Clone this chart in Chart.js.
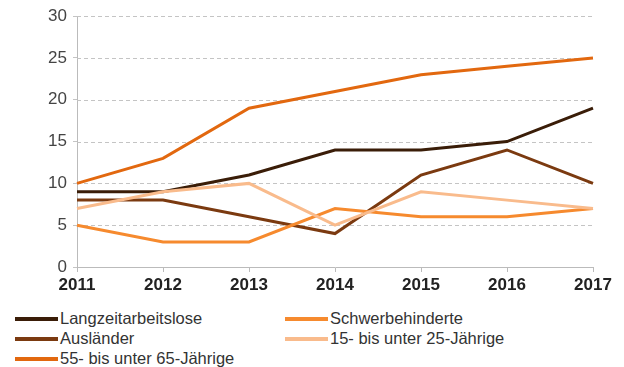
<!DOCTYPE html>
<html>
<head>
<meta charset="utf-8">
<script src="https://cdn.jsdelivr.net/npm/chart.js@4"></script>
<style>
  body { margin: 0; background: #fff; font-family: "Liberation Sans", Arial, sans-serif; }
  #wrap { position: relative; width: 624px; height: 367px; }
  #legend { position: absolute; left: 15px; top: 309px; width: 600px; font-size: 16.5px; color: #333; }
  .item { position: absolute; display: flex; align-items: center; white-space: nowrap; }
  .item span.sw { display: inline-block; width: 43px; height: 4px; margin-right: 2px; }
</style>
</head>
<body>
<div id="wrap">
  <canvas id="myChart" width="624" height="300"></canvas>
  <div id="legend"></div>
</div>
<script>
let years = ["2011", "2012", "2013", "2014", "2015", "2016", "2017"];
let langzeit = [9, 9, 11, 14, 14, 15, 19];
let schwer = [5, 3, 3, 7, 6, 6, 7];
let auslaender = [8, 8, 6, 4, 11, 14, 10];
let jung = [7, 9, 10, 5, 9, 8, 7];
let aelter = [10, 13, 19, 21, 23, 24, 25];
let yTicks = [0, 5, 10, 15, 20, 25, 30];

let series = [
  { label: "Langzeitarbeitslose", data: langzeit, color: "#3a1d08" },
  { label: "Schwerbehinderte", data: schwer, color: "#f68a2e" },
  { label: "Ausländer", data: auslaender, color: "#7b3a10" },
  { label: "15- bis unter 25-Jährige", data: jung, color: "#f9bb8c" },
  { label: "55- bis unter 65-Jährige", data: aelter, color: "#e2680f" }
];

// draw order: lighter lines under darker ones
let order = [3, 1, 2, 4, 0];

// dashed horizontal gridlines, placed with the y scale
let dashGrid = {
  id: "dashGrid",
  beforeDatasetsDraw: c => {
    let y = c.scales.y, a = c.chartArea, g = c.ctx;
    g.save();
    g.strokeStyle = "#c4c4c4";
    g.lineWidth = 1;
    g.setLineDash([4, 3]);
    yTicks.forEach(v => {
      if (v === 0) return;
      let py = Math.round(y.getPixelForValue(v)) + 0.5;
      g.beginPath();
      g.moveTo(a.left, py);
      g.lineTo(a.right, py);
      g.stroke();
    });
    g.restore();
  }
};

let ctx = document.getElementById("myChart").getContext("2d");
var ch = new Chart(ctx, {
  type: "line",
  data: {
    labels: years,
    datasets: order.map(i => ({
      label: series[i].label,
      data: series[i].data,
      borderColor: series[i].color,
      borderWidth: 3,
      pointRadius: 0,
      tension: 0,
      fill: false
    }))
  },
  options: {
    responsive: false,
    animation: false,
    layout: { padding: { left: 0, right: 31, top: 16, bottom: 0 } },
    plugins: { legend: { display: false }, tooltip: { enabled: false } },
    scales: {
      x: {
        offset: false,
        grid: { drawOnChartArea: false, drawTicks: true, tickLength: 5, color: "#bbb" },
        border: { color: "#bbb", width: 1 },
        ticks: { color: "#222", font: { family: "Liberation Sans", size: 17, weight: "bold" }, padding: 3, maxRotation: 0 },
        afterFit: s => { s.height = 33; }
      },
      y: {
        min: 0,
        max: 30,
        afterBuildTicks: s => { s.ticks = yTicks.map(v => ({ value: v })); },
        grid: { drawOnChartArea: false, color: "#c4c4c4", drawTicks: true, tickLength: 4 },
        border: { color: "#bbb", width: 1 },
        ticks: { color: "#444", font: { family: "Liberation Sans", size: 17 }, padding: 6 },
        afterFit: s => { s.width = 77; }
      }
    }
  },
  plugins: [dashGrid]
});

// legend, two columns like the original
let pos = [
  [0, 0], [270, 0],
  [0, 20], [270, 20],
  [0, 40]
];
let lg = document.getElementById("legend");
series.forEach((s, i) => {
  let d = document.createElement("div");
  d.className = "item";
  d.style.left = pos[i][0] + "px";
  d.style.top = pos[i][1] + "px";
  d.innerHTML = '<span class="sw" style="background:' + s.color + '"></span>' + s.label;
  lg.appendChild(d);
});
</script>
</body>
</html>
